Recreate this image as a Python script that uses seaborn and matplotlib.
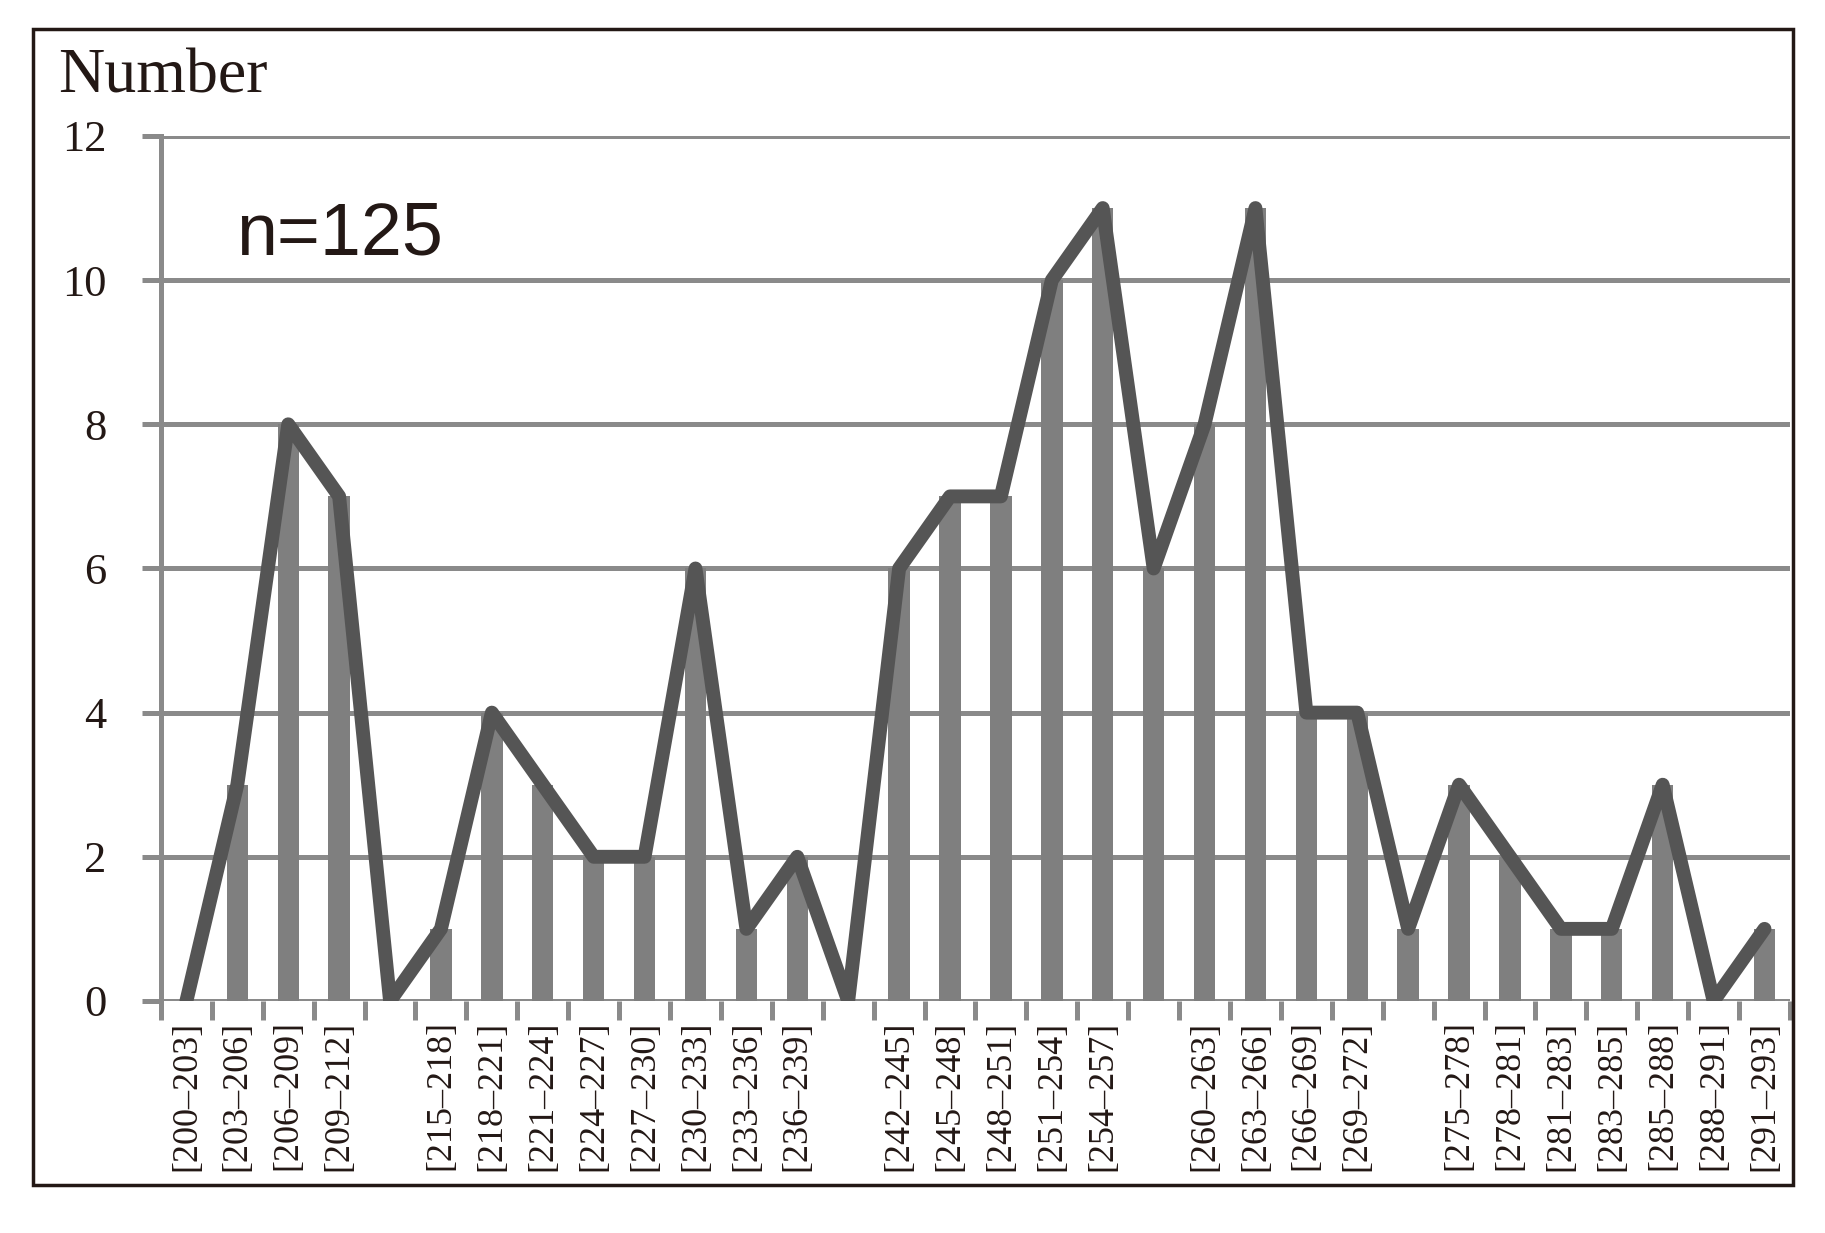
import numpy as np
import pandas as pd
import matplotlib
matplotlib.use('Agg')
import matplotlib.pyplot as plt
import seaborn as sns
from matplotlib.patches import Rectangle

# Interval classes (blank labels are empty classes in the original chart)
labels = ['[200–203]', '[203–206]', '[206–209]', '[209–212]', '',
          '[215–218]', '[218–221]', '[221–224]', '[224–227]', '[227–230]',
          '[230–233]', '[233–236]', '[236–239]', '',
          '[242–245]', '[245–248]', '[248–251]', '[251–254]', '[254–257]', '',
          '[260–263]', '[263–266]', '[266–269]', '[269–272]', '',
          '[275–278]', '[278–281]', '[281–283]', '[283–285]', '[285–288]',
          '[288–291]', '[291–293]']
counts = [0, 3, 8, 7, 0,
          1, 4, 3, 2, 2,
          6, 1, 2, 0,
          6, 7, 7, 10, 11, 6,
          8, 11, 4, 4, 1,
          3, 2, 1, 1, 3,
          0, 1]
sample_note = 'n=125'

df = pd.DataFrame({'pos': np.arange(len(labels)), 'count': counts})

sns.set_style('white')
plt.rcParams['font.family'] = ['Liberation Serif', 'DejaVu Serif']

fig = plt.figure(figsize=(18.25, 12.33), dpi=100)
ax = fig.add_axes([0.0882, 0.1882, 0.8926, 0.7015])

grid_c = '#8a8a8a'
sns.barplot(data=df, x='pos', y='count', color='#7f7f7f', saturation=1,
            width=0.42, edgecolor='none', linewidth=0, ax=ax, zorder=2)
sns.lineplot(data=df, x='pos', y='count', color='#555555', lw=10,
             solid_joinstyle='round', solid_capstyle='round', ax=ax, zorder=3)

ax.set_xlim(-0.5, len(labels) - 0.5)
ax.set_ylim(0, 12)
ax.set_yticks(range(0, 13, 2))
ax.yaxis.grid(True, color=grid_c, lw=3.6)
ax.set_axisbelow(True)

# category labels at centres, tick marks at class boundaries
ax.set_xticks(np.arange(len(labels)))
ax.set_xticklabels(labels, rotation=90, fontsize=26, color='#231815')
ax.set_xticks(np.arange(len(labels) + 1) - 0.5, minor=True)
ax.tick_params(axis='x', which='major', length=0, pad=14)
ax.tick_params(axis='x', which='minor', length=14, width=3.6, color=grid_c,
               direction='out', bottom=True)
ax.tick_params(axis='y', length=14, width=3.6, color=grid_c, direction='out',
               left=True, pad=25, labelsize=32, labelcolor='#231815')

for side in ['top', 'right', 'bottom']:
    ax.spines[side].set_visible(False)
ax.spines['left'].set_color(grid_c)
ax.spines['left'].set_linewidth(3.6)
ax.set_xlabel('')
ax.set_ylabel('')

ax.text(0.046, 10.36, sample_note, transform=ax.get_yaxis_transform(),
        family='Liberation Sans', fontsize=53, color='#231815', va='baseline')

fig.text(0.0318, 0.9246, 'Number', fontsize=46, color='#231815', va='baseline')

fig.patches.append(Rectangle((0.018, 0.0389), 0.9645, 0.9376,
                             transform=fig.transFigure, fill=False,
                             edgecolor='#231815', lw=2.5, zorder=10))

fig.savefig('out.png', dpi=100, facecolor='white')
